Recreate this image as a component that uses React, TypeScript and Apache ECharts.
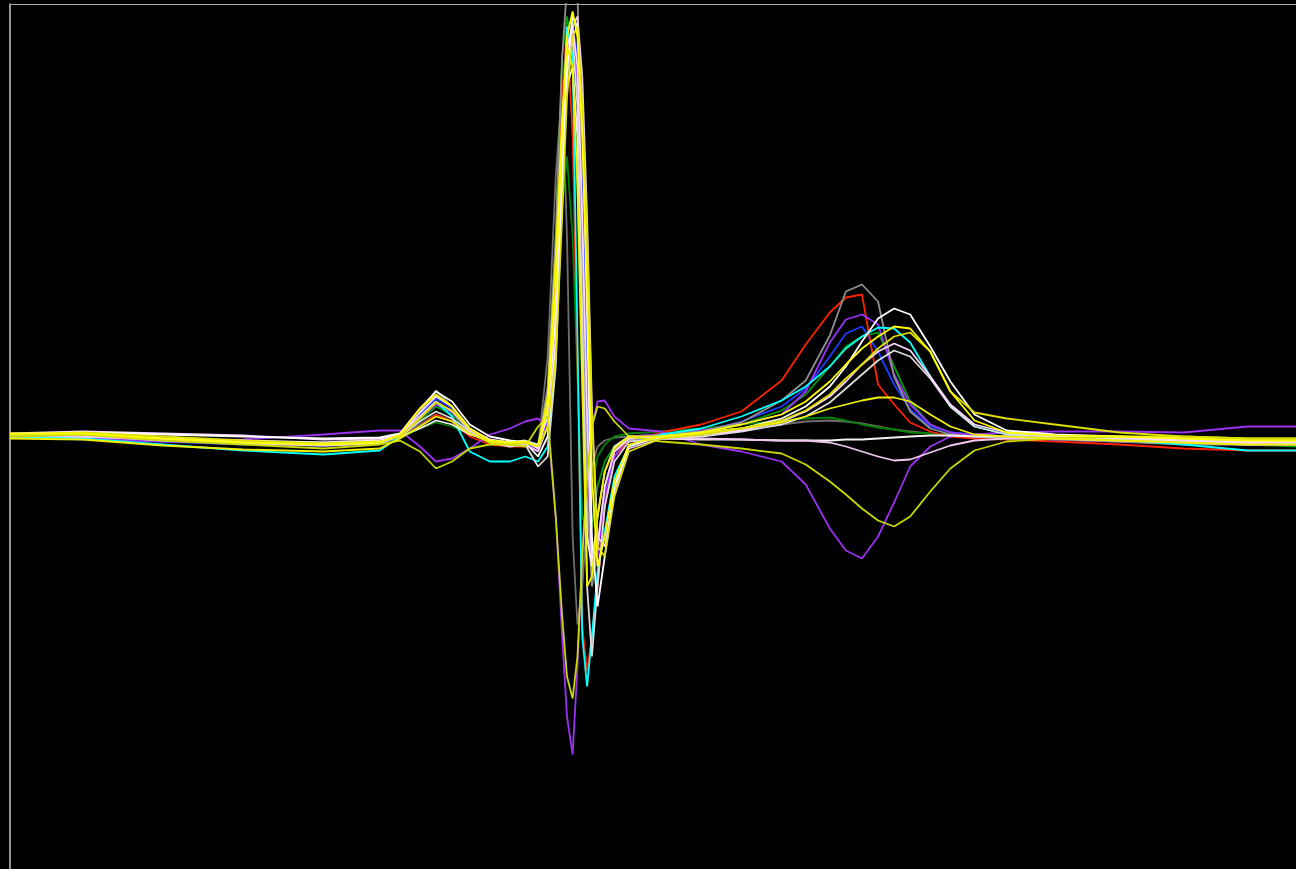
import React, { useEffect, useRef } from "react";
import * as echarts from "echarts";

// Time (ms) relative to the R peak, shared by every trace
const timeMs = [-700, -610, -510, -410, -310, -240, -215, -190, -170, -150, -128, -103, -78, -59, -43, -31, -21, -13, -7, 0, 6, 12, 18, 24, 31, 40, 52, 70, 110, 160, 210, 260, 290, 320, 340, 360, 380, 400, 420, 445, 470, 500, 540, 600, 680, 760, 840, 900];

// Amplitudes in µV
const redTrace = [0, -10, -20, -30, -40, -20, -5, 50, 110, 75, 0, -40, -50, -50, -70, 150, 850, 1700, 2050, 1500, 400, -950, -1175, -1000, -750, -350, -100, -20, 20, 60, 125, 280, 460, 620, 695, 710, 260, 160, 70, 25, 0, -10, -15, -25, -40, -60, -70, -70];
const grayTraceA = [5, 10, -10, -25, -30, -15, 10, 125, 230, 150, 40, -25, -30, -30, -50, 250, 1000, 1900, 2250, 2350, 2250, 1000, -300, -750, -550, -250, -75, -15, 10, 25, 70, 180, 280, 505, 725, 760, 675, 300, 125, 40, 10, 0, -10, -15, -25, -40, -40, -40];
const grayTraceB = [0, -5, -20, -35, -45, -30, 0, 60, 110, 80, 15, -20, -30, -30, -60, 400, 1300, 1750, 1000, -500, -940, -750, -400, -150, -50, -20, -5, 0, 10, 25, 40, 60, 75, 80, 75, 65, 50, 35, 25, 15, 10, 5, 0, -5, -15, -25, -30, -30];
const purpleTraceA = [0, -10, -25, -35, -45, -30, 0, 90, 160, 120, 30, -30, -40, -40, -70, 100, 650, 1500, 1950, 2025, 1750, 1000, 0, -700, -600, -300, -100, 0, 10, 30, 60, 110, 225, 470, 585, 610, 560, 310, 160, 60, 20, 5, -5, -15, -25, -35, -40, -40];
const purpleTraceB = [0, -10, -20, -15, 10, 30, 30, -50, -125, -110, -60, 10, 40, 75, 90, 50, -400, -1000, -1400, -1590, -1150, -600, -200, 50, 175, 180, 100, 40, 25, -40, -75, -125, -240, -460, -570, -610, -500, -330, -150, -50, 0, 10, 20, 25, 25, 20, 50, 50];
const blueTrace = [0, -15, -25, -40, -45, -35, 0, 110, 190, 140, 30, -30, -50, -40, -75, 100, 650, 1450, 1950, 2075, 1900, 1250, 300, -600, -550, -300, -100, -20, 0, 25, 75, 150, 240, 400, 515, 550, 425, 260, 135, 50, 20, 10, 0, -10, -15, -30, -40, -40];
const greenTraceA = [0, -5, -20, -30, -40, -25, 0, 80, 150, 110, 25, -25, -40, -30, -50, 200, 1000, 1900, 2100, 1900, 1250, 250, -550, -450, -250, -125, -50, 0, 0, 20, 60, 130, 210, 350, 450, 500, 520, 350, 175, 60, 20, 5, -5, -10, -25, -30, -40, -50];
const greenTraceB = [10, 0, -15, -30, -40, -30, -10, 40, 70, 50, 10, -20, -30, -25, -40, 150, 600, 1150, 1400, 1000, 300, -400, -450, -250, -100, -40, 0, 15, 25, 40, 60, 80, 90, 95, 80, 60, 45, 35, 20, 15, 10, 5, 0, 0, -10, -30, -40, -40];
const cyanTrace = [0, -10, -40, -70, -90, -70, 0, 100, 175, 100, -75, -125, -125, -100, -125, -50, 400, 1500, 2050, 1900, 500, -1000, -1250, -1000, -675, -475, -200, -50, 10, 40, 100, 180, 250, 350, 440, 500, 545, 540, 470, 300, 150, 50, 10, 0, -15, -40, -70, -70];
const yellowTraceA = [15, 15, -10, -30, -40, -30, 10, 140, 210, 150, 40, -20, -30, -25, -50, 150, 750, 1550, 2000, 2125, 2000, 1500, 750, -200, -650, -500, -225, -40, 0, 20, 60, 110, 175, 275, 360, 440, 500, 550, 540, 425, 225, 80, 20, 5, 0, -10, -20, -20];
const yellowTraceB = [10, 20, 0, -20, -35, -25, 0, 90, 170, 130, 40, -30, -40, -30, -50, 50, 400, 1100, 1700, 2000, 2050, 1650, 1000, 100, -550, -600, -300, -75, -10, 10, 40, 80, 130, 210, 290, 360, 440, 500, 520, 425, 225, 120, 90, 60, 20, 0, -10, -10];
const yellowTraceC = [-10, -15, -45, -65, -75, -60, -10, 50, 100, 75, 15, -30, -40, -25, -50, 200, 900, 1600, 1950, 1850, 1250, 250, -750, -700, -400, -175, -60, 0, 0, 20, 40, 70, 100, 140, 160, 180, 195, 195, 175, 110, 50, 10, 0, -10, -20, -30, -40, -40];
const yellowGreenTrace = [0, 10, -20, -40, -60, -40, -20, -75, -160, -125, -60, -40, -40, -50, 50, 100, -400, -900, -1200, -1310, -1100, -600, -200, 50, 150, 140, 75, 0, -25, -40, -60, -85, -140, -225, -290, -360, -420, -450, -400, -275, -160, -70, -25, -10, 0, 0, -10, -10];
const whiteTraceA = [10, 20, 10, 0, -10, -5, 15, 140, 225, 175, 60, 0, -20, -30, -100, 0, 450, 1250, 1850, 2100, 2050, 1600, 600, -500, -850, -600, -250, -50, 0, 15, 40, 90, 150, 250, 350, 475, 590, 640, 610, 450, 275, 110, 30, 10, 0, -10, -20, -20];
const whiteTraceB = [0, 5, -20, -35, -45, -35, 0, 75, 125, 90, 25, -30, -50, -40, -150, -100, 350, 1200, 1800, 2000, 1650, 600, -750, -1100, -750, -350, -125, -25, -10, 0, 25, 60, 100, 170, 240, 310, 380, 430, 400, 290, 150, 50, 10, 0, -10, -20, -30, -30];
const whiteTraceC = [5, 0, -10, -20, -30, -20, 0, 40, 80, 60, 10, -20, -30, -20, -40, 100, 600, 1300, 1750, 1850, 1500, 500, -500, -650, -400, -175, -50, 0, -10, -15, -15, -20, -20, -20, -15, -15, -10, -5, 0, 5, 5, 0, 0, -10, -20, -25, -30, -30];
const pinkTraceA = [10, 0, -15, -30, -40, -30, 10, 100, 175, 125, 30, -25, -40, -40, -75, 50, 500, 1300, 1850, 2050, 2100, 1800, 1100, 150, -500, -550, -275, -60, -10, -10, -15, -20, -20, -30, -50, -75, -100, -120, -115, -80, -45, -20, -10, -10, -20, -30, -40, -40];
const pinkTraceB = [15, 25, 15, 5, -15, -10, 5, 120, 200, 150, 40, -15, -30, -25, -60, 150, 700, 1500, 1950, 2050, 1850, 1100, 100, -650, -550, -250, -75, -10, -5, 10, 30, 75, 125, 200, 275, 360, 425, 465, 430, 300, 160, 60, 20, 5, -5, -20, -30, -30];

const traces = [
  { name: "gray B", color: "#6e6e6e", values: grayTraceB },
  { name: "green B", color: "#008000", values: greenTraceB },
  { name: "green A", color: "#00a000", values: greenTraceA },
  { name: "blue", color: "#1e3cff", values: blueTrace },
  { name: "red", color: "#ff2200", values: redTrace },
  { name: "purple A", color: "#9b30ff", values: purpleTraceA },
  { name: "purple B", color: "#9a32f0", values: purpleTraceB },
  { name: "gray A", color: "#909090", values: grayTraceA },
  { name: "cyan", color: "#00ffff", values: cyanTrace },
  { name: "white C", color: "#f4f4f4", values: whiteTraceC },
  { name: "white B", color: "#dcdcdc", values: whiteTraceB },
  { name: "pink A", color: "#f0c8f0", values: pinkTraceA },
  { name: "pink B", color: "#ffd6ff", values: pinkTraceB },
  { name: "white A", color: "#ffffff", values: whiteTraceA },
  { name: "yellow green", color: "#c8d800", values: yellowGreenTrace },
  { name: "yellow C", color: "#f0f000", values: yellowTraceC },
  { name: "yellow B", color: "#dde000", values: yellowTraceB },
  { name: "yellow A", color: "#ffff00", values: yellowTraceA },
];

export default function App() {
  const ref = useRef<HTMLDivElement>(null);
  useEffect(() => {
    if (!ref.current) return;
    const chart = echarts.init(ref.current, undefined, { renderer: "svg" });
    chart.setOption({
      animation: false,
      backgroundColor: "#000000",
      grid: { left: 10, top: 4, right: 0, bottom: 0, containLabel: false },
      xAxis: {
        type: "value",
        min: -700,
        max: 900,
        position: "top",
        axisLine: { show: true, onZero: false, lineStyle: { color: "#a8a8a8", width: 1 } },
        axisTick: { show: false },
        axisLabel: { show: false },
        splitLine: { show: false },
      },
      yAxis: {
        type: "value",
        min: -2162.5,
        max: 2162.5,
        axisLine: { show: true, onZero: false, lineStyle: { color: "#c8c8c8", width: 1.5 } },
        axisTick: { show: false },
        axisLabel: { show: false },
        splitLine: { show: false },
      },
      series: traces.map((t) => ({
        name: t.name,
        type: "line",
        data: timeMs.map((x, i) => [x, t.values[i]]),
        showSymbol: false,
        symbol: "none",
        silent: true,
        clip: true,
        lineStyle: { color: t.color, width: 1.8 },
      })),
    });
    return () => chart.dispose();
  }, []);
  return (
    <div
      ref={ref}
      style={{ position: "fixed", left: 0, top: 0, width: 1296, height: 869, background: "#000" }}
    />
  );
}
